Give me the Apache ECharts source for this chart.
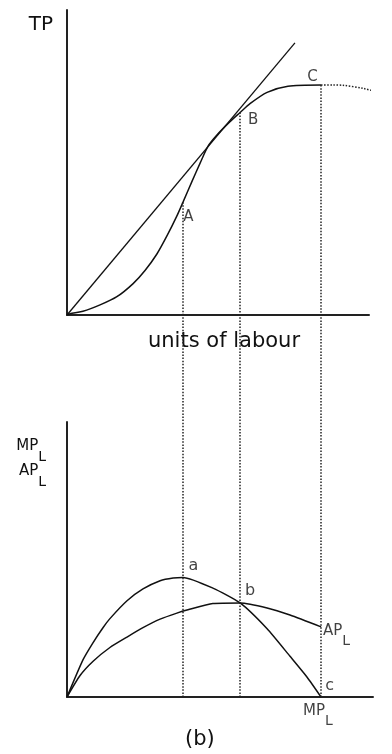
<!DOCTYPE html>
<html>
<head>
<meta charset="utf-8">
<title>Total, average and marginal product of labour</title>
<script src="https://cdn.jsdelivr.net/npm/echarts@6/dist/echarts.min.js"></script>
<style>
  html, body { margin: 0; padding: 0; background: #fff; }
  #chart { width: 392px; height: 754px; }
</style>
</head>
<body>
<div id="chart"></div>
<script>
// Total product curve (units of labour -> output)
const tpLabour = [0, 0.17, 0.55, 1.14, 1.72, 2.28, 2.69, 3.10, 3.45, 3.79, 4.0, 4.31, 4.59, 4.86, 5.17, 5.62, 5.97, 6.31, 6.90, 7.62, 8.76];
const tpOutput = [0, 0.6, 1.2, 3.3, 6.0, 10.3, 14.6, 20.0, 26.0, 32.5, 37.0, 43.8, 49.8, 55.3, 59.0, 63.4, 66.4, 69.3, 73.0, 75.0, 75.4];
// Falling part of total product beyond C (dotted)
const tpFallLabour = [8.76, 9.17, 9.52, 10.21, 10.79, 11.21, 11.6];
const tpFallOutput = [75.4, 75.4, 75.3, 74.3, 72.8, 71.2, 69.4];
// Ray from the origin
const rayLabour = [0, 7.86];
const rayOutput = [0, 89.2];

// Marginal and average product
const mpLabour = [0, 0.55, 0.90, 1.24, 1.48, 2.07, 2.62, 3.21, 3.66, 4.0, 5.03, 5.97, 6.90, 7.69, 8.28, 8.76];
const mpValue  = [0, 13.5, 19.8, 25.2, 28.5, 35.0, 39.3, 42.3, 43.3, 43.5, 39.6, 34.2, 24.8, 14.8, 7.2, 0];
const apLabour = [0, 0.45, 0.90, 1.48, 2.07, 2.62, 3.21, 3.79, 4.17, 5.03, 5.97, 6.90, 7.69, 8.76];
const apValue  = [0, 7.8, 13.0, 18.0, 21.8, 25.2, 28.3, 30.5, 31.7, 34.0, 34.2, 32.4, 29.8, 25.5];

// Labour levels marked by the dotted guides, with their point names
const guideLabour = [4.0, 5.97, 8.76];
const topPointNames = ['A', 'B', 'C'];
const bottomPointNames = ['a', 'b', 'c'];

const INK = '#111';
const FONT = 'DejaVu Sans';

const zip = (xs, ys) => xs.map((x, i) => [x, ys[i]]);
const tpAt = x => tpOutput[tpLabour.indexOf(x)];
const mpAt = x => mpValue[mpLabour.indexOf(x)];
const apAt = x => apValue[apLabour.indexOf(x)];

const axisLine = { show: true, onZero: false, lineStyle: { color: '#222', width: 2 } };
const bareAxis = { axisTick: { show: false }, axisLabel: { show: false }, splitLine: { show: false } };
const dotted = { color: '#222', width: 1.5, type: [1.5, 1.6] };
const curve = { color: INK, width: 1.5 };
const subRich = {
  m: { fontFamily: FONT, fontSize: 15, color: INK, verticalAlign: 'top' },
  s: { fontFamily: FONT, fontSize: 14, color: INK, lineHeight: 25, verticalAlign: 'bottom' }
};

// Label offsets for the points A, B, C and a, b, c
const topOffsets = [[5.5, 15], [13, 7.5], [-8.5, -7.5]];
const bottomOffsets = [[10.5, -12], [10, -12], [8.5, -11]];

const chart = echarts.init(document.getElementById('chart'), null, { renderer: 'canvas' });

chart.setOption({
  animation: false,
  backgroundColor: '#fff',
  title: {
    text: '(b)', left: 185, top: 729, padding: 0,
    textStyle: { fontFamily: FONT, fontSize: 21, fontWeight: 'normal', color: INK }
  },
  grid: [
    { left: 67, top: 10, width: 302, height: 305, outerBoundsMode: 'none' },
    { left: 67, top: 422, width: 306, height: 275, outerBoundsMode: 'none' },
    { left: 67, top: 315, width: 306, height: 382, outerBoundsMode: 'none' }
  ],
  xAxis: [
    Object.assign({
      type: 'value', gridIndex: 0, min: 0, max: 302 / 29, axisLine,
      name: 'units of labour', nameLocation: 'middle', nameGap: 27,
      nameTextStyle: { fontFamily: FONT, fontSize: 21, color: INK, verticalAlign: 'middle', padding: [0, 0, 0, 12] }
    }, bareAxis),
    Object.assign({ type: 'value', gridIndex: 1, min: 0, max: 306 / 29, axisLine }, bareAxis),
    Object.assign({ type: 'value', gridIndex: 2, min: 0, max: 306 / 29, axisLine: { show: false } }, bareAxis)
  ],
  yAxis: [
    Object.assign({
      type: 'value', gridIndex: 0, min: 0, max: 100, axisLine,
      name: 'TP', nameLocation: 'end', nameGap: -15,
      nameTextStyle: { fontFamily: FONT, fontSize: 20, color: INK, align: 'right', verticalAlign: 'middle', padding: [0, 14, 0, 0] }
    }, bareAxis),
    Object.assign({
      type: 'value', gridIndex: 1, min: 0, max: 100, axisLine,
      name: '{m|MP}{s|L}\n{m|AP}{s|L}', nameLocation: 'end', nameGap: -17,
      nameTextStyle: { align: 'right', verticalAlign: 'top', padding: [0, 21, 0, 0], rich: subRich }
    }, bareAxis),
    Object.assign({ type: 'value', gridIndex: 2, min: 0, max: 1, axisLine: { show: false } }, bareAxis)
  ],
  series: [
    {
      name: 'TP', type: 'line', xAxisIndex: 0, yAxisIndex: 0,
      data: zip(tpLabour, tpOutput), symbol: 'none', smooth: 0.25, silent: true,
      lineStyle: curve
    },
    {
      name: 'TP falling', type: 'line', xAxisIndex: 0, yAxisIndex: 0, clip: false,
      data: zip(tpFallLabour, tpFallOutput), symbol: 'none', smooth: 0.3, silent: true,
      lineStyle: dotted
    },
    {
      name: 'Ray', type: 'line', xAxisIndex: 0, yAxisIndex: 0,
      data: zip(rayLabour, rayOutput), symbol: 'none', silent: true,
      lineStyle: { color: INK, width: 1.3 }
    },
    {
      // guides from TP down to the labour axis
      name: 'Guides top', type: 'line', xAxisIndex: 0, yAxisIndex: 0, data: [], silent: true,
      markLine: {
        silent: true, symbol: 'none', label: { show: false }, lineStyle: dotted,
        data: guideLabour.map(x => [{ coord: [x, tpAt(x)] }, { coord: [x, 0] }])
      }
    },
    {
      name: 'Points top', type: 'scatter', xAxisIndex: 0, yAxisIndex: 0, symbolSize: 0, silent: true,
      data: guideLabour.map((x, i) => ({
        value: [x, tpAt(x)],
        label: { show: true, formatter: topPointNames[i], position: 'inside', offset: topOffsets[i],
                 fontFamily: FONT, fontSize: 15, color: INK }
      }))
    },
    {
      // guides continuing down to the lower panel
      name: 'Guides lower', type: 'line', xAxisIndex: 2, yAxisIndex: 2, data: [], silent: true,
      markLine: {
        silent: true, symbol: 'none', label: { show: false }, lineStyle: dotted,
        data: guideLabour.map(x => ({ xAxis: x }))
      }
    },
    {
      name: 'MPL', type: 'line', xAxisIndex: 1, yAxisIndex: 1,
      data: zip(mpLabour, mpValue), symbol: 'none', smooth: 0.2, silent: true,
      lineStyle: curve
    },
    {
      name: 'APL', type: 'line', xAxisIndex: 1, yAxisIndex: 1,
      data: zip(apLabour, apValue), symbol: 'none', smooth: 0.2, silent: true,
      lineStyle: curve
    },
    {
      name: 'Points bottom', type: 'scatter', xAxisIndex: 1, yAxisIndex: 1, symbolSize: 0, silent: true,
      data: guideLabour.map((x, i) => ({
        value: [x, mpAt(x)],
        label: { show: true, formatter: bottomPointNames[i], position: 'inside', offset: bottomOffsets[i],
                 fontFamily: FONT, fontSize: 16, color: INK }
      }))
    },
    {
      name: 'Curve names', type: 'scatter', xAxisIndex: 1, yAxisIndex: 1, symbolSize: 0, silent: true,
      data: [
        {
          value: [guideLabour[2], apAt(guideLabour[2])],
          label: { show: true, formatter: '{m|AP}{s|L}', position: 'inside', align: 'left',
                   offset: [2, 9], rich: subRich }
        },
        {
          value: [guideLabour[2], mpAt(guideLabour[2])],
          label: { show: true, formatter: '{m|MP}{s|L}', position: 'inside', align: 'left',
                   offset: [-18, 19], rich: subRich }
        }
      ]
    }
  ]
});
</script>
</body>
</html>
